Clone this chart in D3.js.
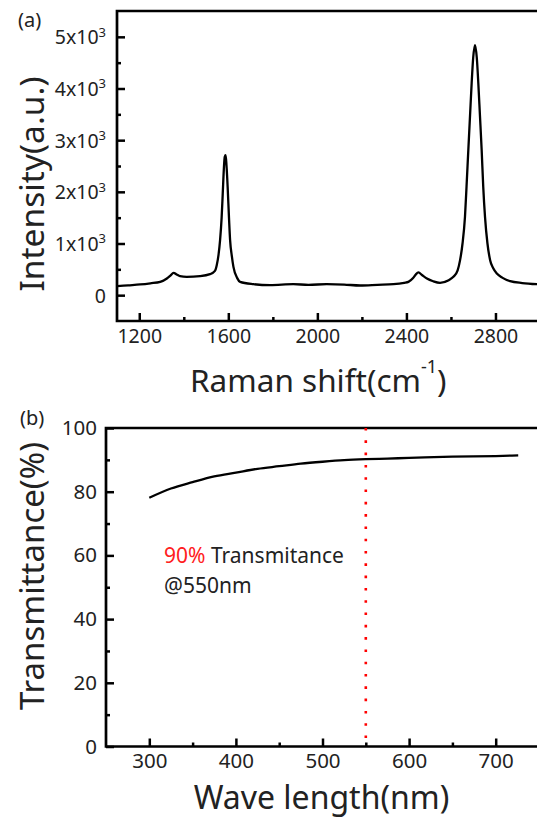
<!DOCTYPE html>
<html>
<head>
<meta charset="utf-8">
<script src="https://cdn.jsdelivr.net/npm/d3@7"></script>
<style>
  body { margin: 0; background: #fff; }
  text { font-family: "Noto Sans", "Open Sans", sans-serif; fill: #222; }
</style>
</head>
<body>
<div id="chart"></div>
<script>
const width = 537;
const height = 820;

// Raman spectrum (a)
const ramanShift = [1100, 1150, 1204, 1250, 1294, 1324, 1340, 1354, 1368, 1383, 1413, 1473, 1518, 1540, 1548, 1556, 1563, 1570, 1575, 1580, 1584, 1588, 1592, 1597, 1603, 1608, 1616, 1623, 1640, 1653, 1713, 1788, 1892, 1960, 2042, 2120, 2192, 2270, 2342, 2390, 2409, 2430, 2442, 2454, 2470, 2492, 2520, 2551, 2590, 2611, 2630, 2641, 2652, 2663, 2670, 2678, 2686, 2693, 2700, 2708, 2716, 2723, 2730, 2738, 2745, 2753, 2764, 2776, 2790, 2806, 2830, 2866, 2920, 2986, 3000];
const intensity = [174, 190, 207, 230, 258, 323, 380, 432, 400, 368, 355, 368, 406, 470, 580, 780, 1065, 1500, 1970, 2450, 2680, 2710, 2500, 2097, 1500, 1065, 750, 548, 330, 258, 213, 194, 213, 200, 213, 205, 187, 200, 213, 240, 258, 330, 400, 440, 390, 323, 270, 239, 290, 355, 480, 678, 1000, 1516, 2100, 2807, 3500, 4100, 4600, 4840, 4600, 4100, 3500, 2807, 2100, 1516, 1000, 678, 520, 419, 340, 271, 235, 213, 210];

// Transmittance spectrum (b)
const waveLength = [300, 325, 350, 375, 400, 425, 450, 475, 500, 525, 550, 575, 600, 650, 700, 726];
const transmittance = [78.1, 81, 83, 84.8, 86, 87.2, 88.0, 88.8, 89.4, 89.9, 90.2, 90.4, 90.6, 91.0, 91.2, 91.4];

const ramanTicks = [1200, 1600, 2000, 2400, 2800];
const ramanMinor = [1400, 1800, 2200, 2600];
const intensityTicks = [0, 1, 2, 3, 4, 5];
const intensityMinor = [0.5, 1.5, 2.5, 3.5, 4.5];
const waveTicks = [300, 400, 500, 600, 700];
const waveMinor = [350, 450, 550, 650];
const transTicks = [0, 20, 40, 60, 80, 100];
const transMinor = [10, 30, 50, 70, 90];

const svg = d3.select("#chart").append("svg")
    .attr("width", width)
    .attr("height", height)
    .attr("viewBox", [0, 0, width, height]);

svg.append("rect").attr("width", width).attr("height", height).attr("fill", "#fff");

// ---------- panel (a) ----------
const xa = d3.scaleLinear().domain([1100, 3000]).range([117, 540]);
const ya = d3.scaleLinear().domain([-0.5, 5.5]).range([321, 11]);

const ga = svg.append("g");

// frame: left, bottom, top
ga.append("path")
    .attr("d", `M${xa(3000)},${ya(5.5)}H${xa(1100)}V${ya(-0.5)}H${xa(3000)}`)
    .attr("fill", "none").attr("stroke", "#000").attr("stroke-width", 2.7);

ga.append("g").attr("class", "ta").attr("transform", `translate(0,${ya(-0.5)})`)
    .call(d3.axisBottom(xa).tickValues(ramanTicks).tickSize(-8).tickPadding(8).tickFormat(d3.format("d")));
ga.append("g").attr("transform", `translate(0,${ya(-0.5)})`)
    .call(d3.axisBottom(xa).tickValues(ramanMinor).tickSize(-4).tickFormat(""));

const ayA = ga.append("g").attr("class", "ta").attr("transform", `translate(${xa(1100)},0)`)
    .call(d3.axisLeft(ya).tickValues(intensityTicks).tickSize(-8).tickPadding(11).tickFormat(""));
ga.append("g").attr("transform", `translate(${xa(1100)},0)`)
    .call(d3.axisLeft(ya).tickValues(intensityMinor).tickSize(-4).tickFormat(""));

// ---------- panel (b) ----------
const xb = d3.scaleLinear().domain([250, 750]).range([106, 539]);
const yb = d3.scaleLinear().domain([0, 100]).range([746.5, 428]);

const gb = svg.append("g");

gb.append("path")
    .attr("d", `M${xb(750)},${yb(100)}H${xb(250)}V${yb(0)}H${xb(750)}`)
    .attr("fill", "none").attr("stroke", "#000").attr("stroke-width", 2.7);

gb.append("g").attr("class", "tb").attr("transform", `translate(0,${yb(0)})`)
    .call(d3.axisBottom(xb).tickValues(waveTicks).tickSize(-8).tickPadding(7));
gb.append("g").attr("transform", `translate(0,${yb(0)})`)
    .call(d3.axisBottom(xb).tickValues(waveMinor).tickSize(-4).tickFormat(""));
gb.append("g").attr("class", "tb").attr("transform", `translate(${xb(250)},0)`)
    .call(d3.axisLeft(yb).tickValues(transTicks).tickSize(-8).tickPadding(9));
gb.append("g").attr("transform", `translate(${xb(250)},0)`)
    .call(d3.axisLeft(yb).tickValues(transMinor).tickSize(-4).tickFormat(""));

// common axis styling
svg.selectAll(".domain").remove();
svg.selectAll(".tick line").attr("stroke", "#000").attr("stroke-width", 2.5);
svg.selectAll(".tick text").attr("fill", "#222")
    .style("font-family", "'Noto Sans', sans-serif");
svg.selectAll(".ta .tick text").attr("font-size", 19.5);
svg.selectAll(".tb .tick text").attr("font-size", 20.5);

// y tick labels with superscript
ayA.selectAll(".tick text").each(function(d) {
    const t = d3.select(this).attr("dy", "0.36em");
    if (d === 0) { t.text("0"); return; }
    t.text(d + "x10");
    t.append("tspan").attr("dy", "-0.6em").attr("font-size", 13).text("3");
});

// ---------- curves ----------
const lineA = d3.line()
    .x((d, i) => xa(ramanShift[i]))
    .y(d => ya(d / 1000))
    .curve(d3.curveMonotoneX);
ga.append("path").datum(intensity)
    .attr("d", lineA)
    .attr("fill", "none").attr("stroke", "#000").attr("stroke-width", 2.3);

// red dotted line at 550 nm
gb.append("line")
    .attr("x1", xb(550)).attr("x2", xb(550))
    .attr("y1", yb(100)).attr("y2", yb(0))
    .attr("stroke", "#ff0000").attr("stroke-width", 2.6)
    .attr("stroke-dasharray", "2.6,9.7");

const lineB = d3.line()
    .x((d, i) => xb(waveLength[i]))
    .y(d => yb(d))
    .curve(d3.curveMonotoneX);
gb.append("path").datum(transmittance)
    .attr("d", lineB)
    .attr("fill", "none").attr("stroke", "#000").attr("stroke-width", 2.3);

// ---------- labels ----------
svg.append("text").attr("x", 18).attr("y", 27).attr("font-size", 20).text("(a)");
svg.append("text").attr("x", 20).attr("y", 425).attr("font-size", 20).text("(b)");

const xlabA = svg.append("text").attr("x", 190).attr("y", 392).attr("font-size", 31.5);
xlabA.append("tspan").text("Raman shift(cm");
xlabA.append("tspan").attr("dy", -19).attr("font-size", 18).text("-1");
xlabA.append("tspan").attr("dy", 19).text(")");

svg.append("text")
    .attr("transform", "translate(44,184) rotate(-90)")
    .attr("text-anchor", "middle").attr("font-size", 33.5)
    .text("Intensity(a.u.)");

svg.append("text")
    .attr("transform", "translate(44,576) rotate(-90)")
    .attr("text-anchor", "middle").attr("font-size", 33)
    .text("Transmittance(%)");

svg.append("text").attr("x", 321.5).attr("y", 809)
    .attr("text-anchor", "middle").attr("font-size", 32)
    .text("Wave length(nm)");

const note = svg.append("text").attr("x", 164).attr("y", 563).attr("font-size", 21);
note.append("tspan").style("fill", "#ff2020").text("90% ");
note.append("tspan").text("Transmitance");
svg.append("text").attr("x", 164).attr("y", 593).attr("font-size", 21).text("@550nm");
</script>
</body>
</html>
